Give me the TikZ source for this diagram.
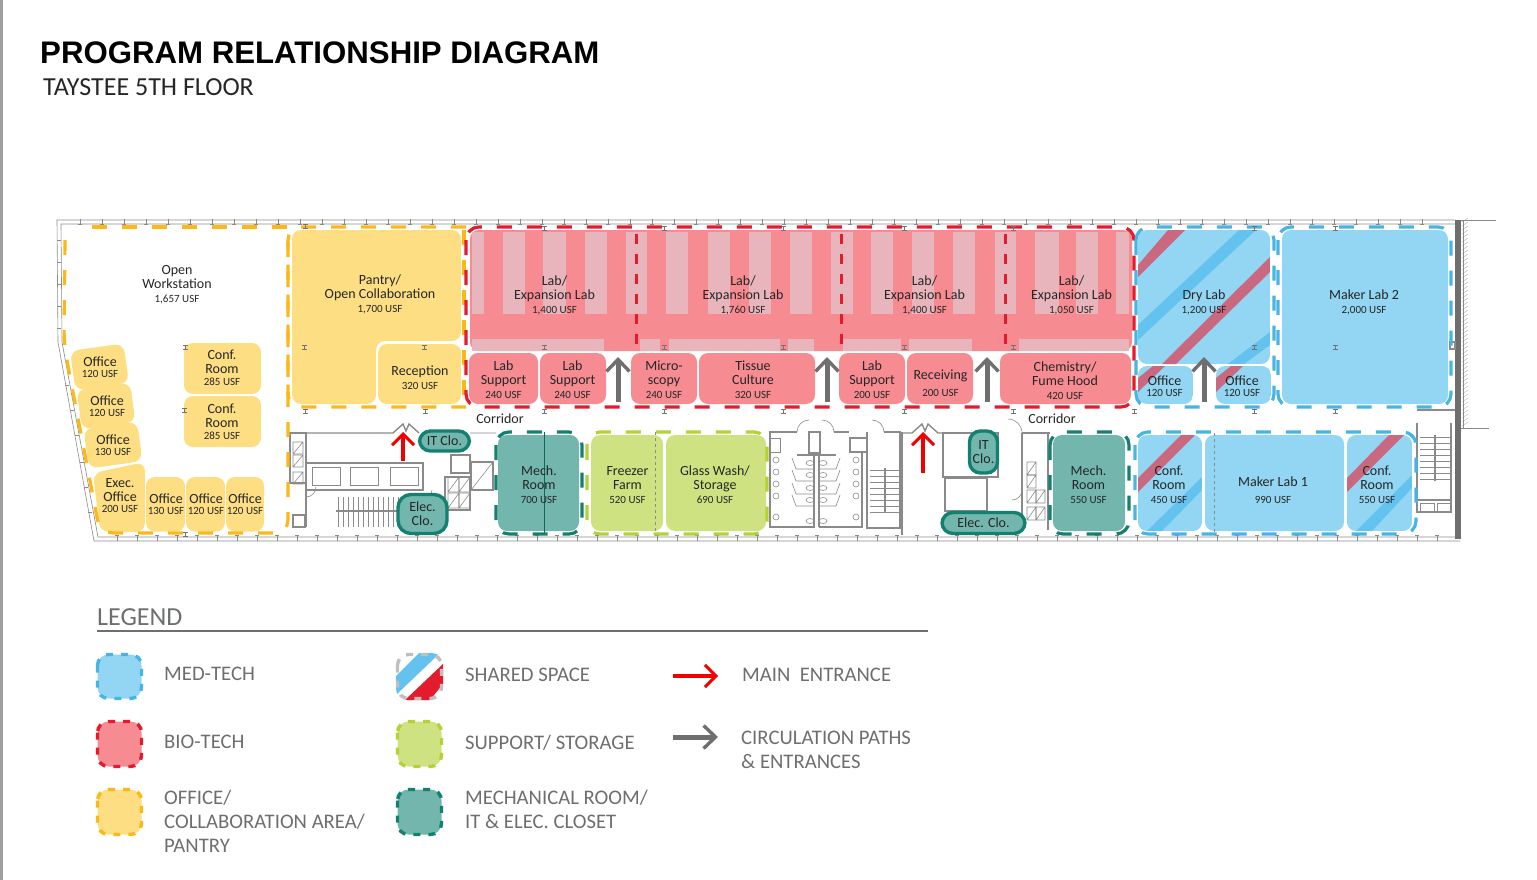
\documentclass[tikz,border=0pt]{standalone}
\usepackage{fontspec}
\setmainfont{Carlito}
\newfontfamily\titlefont{Liberation Sans}
\usetikzlibrary{arrows.meta}
\definecolor{medfill}{HTML}{92D6F3}
\definecolor{medline}{HTML}{48B4E4}
\definecolor{medstripe}{HTML}{63C3EE}
\definecolor{sharedstripe}{HTML}{C9687E}
\definecolor{biofill}{HTML}{F68B92}
\definecolor{bioline}{HTML}{E31B2C}
\definecolor{biobench}{HTML}{E9B5BD}
\definecolor{offfill}{HTML}{FDDE83}
\definecolor{offline}{HTML}{FBB816}
\definecolor{supfill}{HTML}{CFE281}
\definecolor{supline}{HTML}{B2D235}
\definecolor{mechfill}{HTML}{72B6AE}
\definecolor{mechline}{HTML}{14806F}
\definecolor{wallgray}{HTML}{8A8A8A}
\definecolor{arrowgray}{HTML}{6F6F6F}
\definecolor{legendtext}{HTML}{6D6E70}
\tikzset{
  room/.style={rounded corners=9pt},
  zone/.style={line width=3.2pt, dash pattern=on 15pt off 15pt, rounded corners=13pt},
  swatch/.style={line width=3.4pt, dash pattern=on 7pt off 8pt, rounded corners=11pt},
  planline/.style={draw=wallgray, line width=0.6pt},
  wall/.style={draw=wallgray, line width=1.4pt},
  rmtext/.style={align=center, inner sep=0pt, text=black!85, font=\fontsize{14}{14}\selectfont},
  clo/.style={draw=mechline, fill=mechfill, line width=3.4pt, rounded corners=11pt, align=center,
    inner sep=0pt, text=black!85, font=\fontsize{14}{14}\selectfont},
  legendrm/.style={anchor=west, align=left, inner sep=0pt, text=legendtext, font=\fontsize{20.7}{24}\selectfont},
  grayarrow/.style={draw=arrowgray, line width=5pt, -{Straight Barb[length=12pt,width=23pt,line width=3.4pt]}},
  redarrow/.style={draw=red!95!black, line width=3.8pt, -{Straight Barb[length=11pt,width=22pt,line width=3pt]}},
}
\newcommand{\usf}[1]{{\fontsize{11}{13}\selectfont #1 USF}}
\begin{document}
\begin{tikzpicture}[x=1pt, y=-1pt]
  \useasboundingbox (0,0) rectangle (1537,880);
  \fill[black!38] (0,0) rectangle (3,880);
  % Title
  \node[anchor=west, inner sep=0pt, font=\titlefont\bfseries\fontsize{31.2}{32}\selectfont] (title) at (40,53) {PROGRAM RELATIONSHIP DIAGRAM};
  \node[anchor=west, inner sep=0pt, text=black!85, font=\fontsize{26}{27}\selectfont] (subtitle) at (43,87) {TAYSTEE 5TH FLOOR};
  % Building outline
  \draw[planline] (1455,220) -- (57,220) -- (58,342) -- (94,541) -- (1460,541);
  \draw[planline] (1455,224) -- (61,224) -- (62,342) -- (98,537) -- (1456,537);
  \foreach \x in {80,102,...,1440} {
    \draw[planline] (\x,219) -- (\x,224) (\x-2,224) -- (\x+2,224);
  }
  \foreach \x in {117,137,...,1440} {
    \draw[planline] (\x,541) -- (\x,535) (\x-2,535) -- (\x+2,535);
  }
  \foreach \y in {240,262,284,306,328} {
    \draw[planline] (57,\y) -- (61,\y);
  }
  \foreach \a/\b in {65/385,70/410,75/435,80/462,84/487,88/512} {
    \draw[planline] (\a,\b) -- (\a+4,\b);
  }
  \fill[wallgray!80!black] (1455,220) rectangle (1461,539);
  \foreach \y in {222,226,...,426} {
    \draw[black!35, line width=0.3pt] (1462,\y) -- (1468,\y-4);
  }
  \draw[planline] (1461,220) -- (1496,220) (1461,428) -- (1489,428) (1463,220) -- (1463,428);
  % Left core
  \draw[wall] (290,433) -- (393,433) -- (403,424) -- (406,431) -- (409,424) -- (419,433);
  \draw[wall] (290,433) rectangle (306,483) (306,433) -- (306,527);
  \draw[wall] (306,463) rectangle (423,490);
  \foreach \a in {312,350,390} {
    \draw[planline] (\a,467) rectangle (\a+28,485);
  }
  \foreach \a/\b in {293/442,293/455,293/472} {
    \draw[planline] (\a,\b) rectangle (\a+10,\b+12) (\a,\b+12) -- (\a+10,\b);
  }
  \draw[wall] (293,515) rectangle (305,527);
  \foreach \x in {338,343,...,398} {
    \draw[planline] (\x,497) -- (\x,527);
  }
  \draw[wall] (336,511) -- (398,511);
  \draw[planline] (306,497) arc (90:0:10) (432,490) arc (0:90:10);
  \foreach \a/\b in {448/477,459/477,448/493,459/493} {
    \draw[planline] (\a,\b) rectangle (\a+11,\b+15) (\a,\b+15) -- (\a+11,\b);
  }
  \draw[wall] (445,477) rectangle (470,510) (471,462) rectangle (493,490) (451,455) rectangle (470,473);
  \draw[planline] (471,490) -- (493,462) (470,433) -- (496,433);
  % Restrooms
  \draw[wall] (797,432) -- (770,432) -- (770,527) -- (814,527) -- (814,452);
  \draw[wall] (834,432) -- (849,432) (819,527) -- (819,452) (819,527) -- (862,527) -- (862,452) -- (850,452);
  \draw[wall] (809,432) rectangle (820,453) (850,438) rectangle (867,452);
  \draw[wall] (797,455) -- (836,455);
  \draw[wall] (867,432) -- (867,528) -- (900,528) -- (900,432) -- (884,432);
  \draw[wall] (902,432) -- (902,535);
  \draw[planline] (797,432) arc (180:270:12) (834,432) arc (0:-90:12) (884,432) arc (0:-90:12);
  \draw[planline] (770,438) rectangle (780,452);
  \foreach \y in {458,470,483,495} {
    \draw[planline] (792,\y) -- (796,\y+11) -- (814,\y+11) (819,\y+11) -- (836,\y+11) -- (840,\y);
  }
  \foreach \y in {460,472,484,496,517} {
    \draw[planline] (776,\y) circle (3) (856,\y) circle (3);
  }
  \foreach \y in {463,475,488,500,521} {
    \draw[planline] (810,\y) ellipse (4 and 2.5) (823,\y) ellipse (4 and 2.5);
  }
  % Middle stairs
  \foreach \y in {470,476,...,512} {
    \draw[planline] (870,\y) -- (900,\y);
  }
  \draw[wall] (885,468) -- (885,512);
  % Right core
  \draw[wall] (902,433) -- (912,433) -- (922,424) -- (925,431) -- (928,424) -- (938,433) -- (998,433);
  \draw[wall] (943,433) rectangle (998,477) (945,478) rectangle (987,511);
  \draw[wall] (1022,433) -- (1050,433) (1022,433) -- (1022,530) (1048,433) -- (1048,530);
  \draw[planline] (1022,433) arc (0:-90:14) (1022,490) arc (0:90:10);
  \foreach \a/\b in {1027/462,1027/475,1027/490,1036/490,1027/507,1036/507} {
    \draw[planline] (\a,\b) rectangle (\a+9,\b+13) (\a,\b+13) -- (\a+9,\b);
  }
  % Right stairs
  \draw[wall] (1417,410) -- (1455,410) (1417,423) -- (1417,512) -- (1451,512) -- (1451,423);
  \foreach \y in {437,443,...,480} {
    \draw[planline] (1420,\y) -- (1450,\y);
  }
  \draw[wall] (1435,435) -- (1435,481) (1417,500) -- (1451,500);
  \draw[planline] (1420,503) rectangle (1434,511) (1437,503) rectangle (1450,511);
  \draw[wall] (1450,342) rectangle (1455,349);

  % Office rooms
  \fill[offfill, room] (292,230) -- (461,230) -- (461,341) -- (376,341) -- (376,404) -- (292,404) -- cycle;
  \fill[offfill, room] (378,344) rectangle (461,404);
  \foreach \a/\b [count=\n] in {99.5/367,106/406,113/445} {
    \node[fill=offfill, rounded corners=9pt, minimum width=54pt, minimum height=40pt, rotate=8, inner sep=0pt] (officefill\n) at (\a,\b) {};
  }
  \fill[offfill, room] (93,473) -- (145,462) -- (145,532) -- (100,532) -- cycle;
  \foreach \a/\b in {146/185,186/225,226/264} {
    \fill[offfill, room] (\a,477) rectangle (\b,531.5);
  }
  \fill[offfill, room] (184,343) rectangle (261,394);
  \fill[offfill, room] (184,396) rectangle (261,447);
  % Lab rooms
  \fill[biofill, room] (470,230) rectangle (1132,351);
  \foreach \a/\b in {472/484,503/525,543/566,585/607,626/647,666/688,708/730,749/771,790/812,831/853,871/893,912/934,953/975,995/1016,1035/1059,1076/1098,1116/1129} {
    \fill[biobench] (\a,232) rectangle (\b,314);
  }
  \foreach \a/\b in {472/604,640/660,669/780,788/814,843/901,909/972,1019/1129} {
    \fill[biobench] (\a,339) rectangle (\b,351);
  }
  \foreach \a/\b in {469/538,540/606,631/697,699/815,839/905,907/973,1000/1131} {
    \fill[biofill, room] (\a,353) rectangle (\b,404);
  }
  % Med-tech rooms
  \begin{scope}
    \clip[room] (1138,230) rectangle (1270,364);
    \fill[medfill] (1138,230) rectangle (1270,364);
    \fill[medstripe] (1138,325) -- (1239,230) -- (1256,230) -- (1138,340) -- cycle;
    \fill[medstripe] (1228,364) -- (1270,332) -- (1270,345) -- (1244,364) -- cycle;
    \fill[sharedstripe] (1138,265) -- (1168,230) -- (1185,230) -- (1138,277) -- cycle;
    \fill[sharedstripe] (1162,364) -- (1270,257) -- (1270,272) -- (1176,364) -- cycle;
  \end{scope}
  \foreach \a in {1138,1216} {
    \begin{scope}
      \clip[room] (\a,366) rectangle (\a+55,404);
      \fill[medfill] (\a,366) rectangle (\a+55,404);
      \fill[sharedstripe] (\a,378) -- (\a+15,366) -- (\a+27,366) -- (\a,392) -- cycle;
    \end{scope}
  }
  \fill[medfill, room] (1282,230) rectangle (1448,404);
  \fill[medfill, room] (1205,435) rectangle (1344,531);
  \begin{scope}
    \clip[room] (1138,435) rectangle (1202,531);
    \fill[medfill] (1138,435) rectangle (1202,531);
    \fill[medstripe] (1147,531) -- (1202,477) -- (1202,490) -- (1162,531) -- cycle;
    \fill[sharedstripe] (1138,478) -- (1181,435) -- (1195,435) -- (1138,492) -- cycle;
  \end{scope}
  \begin{scope}
    \clip[room] (1347,435) rectangle (1412,531);
    \fill[medfill] (1347,435) rectangle (1412,531);
    \fill[medstripe] (1356,531) -- (1412,475) -- (1412,488) -- (1372,531) -- cycle;
    \fill[sharedstripe] (1347,478) -- (1389,435) -- (1404,435) -- (1347,492) -- cycle;
  \end{scope}
  % Support and mechanical rooms
  \fill[supfill, room] (591,435) rectangle (663,531);
  \fill[supfill, room] (666,435) rectangle (766,531);
  \fill[mechfill, room] (498,435) rectangle (579,531);
  \fill[mechfill, room] (1053,435) rectangle (1125,531);
  \draw[mechline!80!black, line width=1pt] (544,432) -- (544,534);
  \draw[wallgray, line width=1pt, dashed] (655,432) -- (655,534) (1214,433) -- (1214,533);
  % Zones
  \draw[offline, zone] (287,227) -- (80,227);
  \draw[offline, zone] (65,240) -- (64,345) -- (100,533) -- (288,533) -- (288,240);
  \draw[offline, zone] (466,227) -- (288,227) -- (288,407) -- (466,407);
  \draw[offline, zone] (464,230) -- (464,404);
  \draw[bioline, zone] (466,227) rectangle (1134,407);
  \foreach \x in {636,841,1005} {
    \draw[bioline, line width=3pt, dash pattern=on 10pt off 10pt] (\x,234) -- (\x,345);
  }
  \draw[medline, zone] (1136,227) rectangle (1274,407);
  \draw[medline, zone] (1278,227) rectangle (1451,407);
  \draw[mechline, zone] (496,432) rectangle (582,534);
  \draw[supline, zone] (587,432) rectangle (767,534);
  \draw[mechline, zone] (1050,432) rectangle (1129,534);
  \draw[medline, zone] (1135,432) rectangle (1416,534);
  % Column marks
  \foreach \a/\b in {185/347,184/410,304/347,424/347,305/411,425/411,185/534,305/226,544/228,664/228,783/228,904/228,1013/228,544/347,664/347,783/347,904/347,1013/347,544/411,664/411,783/411,904/411,1013/411,1134/411,1254/411,1335/411,1254/347,1335/347,1254/228,1335/228} {
    \draw[black!55, line width=0.8pt] (\a-2.5,\b-2) -- (\a+2.5,\b-2) (\a-2.5,\b+2) -- (\a+2.5,\b+2) (\a,\b-2) -- (\a,\b+2);
  }
  % Closets
  \node[clo, minimum width=50pt, minimum height=20pt] (itcloa) at (444.5,441) {IT Clo.};
  \node[clo, minimum width=49pt, minimum height=39pt, rounded corners=13pt] (eleccloa) at (422.5,514) {Elec.\\Clo.};
  \node[clo, minimum width=28pt, minimum height=42pt] (itclob) at (983.5,452) {IT\\Clo.};
  \node[clo, minimum width=83pt, minimum height=21pt] (elecclob) at (983.5,523) {Elec. Clo.};
  % Circulation arrows
  \foreach \x [count=\n] in {618,827,987,1204} {
    \coordinate (circs\n) at (\x,402);
    \coordinate (circe\n) at (\x,357);
    \draw[grayarrow] (circs\n) -- (circe\n);
  }
  \foreach \x/\y [count=\n] in {403/461,923/473} {
    \coordinate (mains\n) at (\x,\y);
    \coordinate (maine\n) at (\x,432);
    \draw[redarrow] (mains\n) -- (maine\n);
  }
  % Room labels
  \node[rmtext] (openws) at (177,284.5) {Open\\Workstation\\\usf{1,657}};
  \node[rmtext] (pantry) at (380,294) {Pantry/\\Open Collaboration\\\usf{1,700}};
  \node[rmtext] (reception) at (420,378) {Reception\\\usf{320}};
  \node[rmtext] (office1) at (100,367.5) {Office\\[-3pt]\usf{120}};
  \node[rmtext] (office2) at (107,406.5) {Office\\[-3pt]\usf{120}};
  \node[rmtext] (office3) at (113,445.5) {Office\\[-3pt]\usf{130}};
  \node[rmtext] (exec) at (120,496) {Exec.\\Office\\[-3pt]\usf{200}};
  \node[rmtext] (office4) at (166,504) {Office\\[-3pt]\usf{130}};
  \node[rmtext] (office5) at (206,504) {Office\\[-3pt]\usf{120}};
  \node[rmtext] (office6) at (245,504) {Office\\[-3pt]\usf{120}};
  \node[rmtext] (confa) at (222,368) {Conf.\\Room\\[-2pt]\usf{285}};
  \node[rmtext] (confb) at (222,422) {Conf.\\Room\\[-2pt]\usf{285}};
  \node[rmtext] (laba) at (554.5,295) {Lab/\\Expansion Lab\\\usf{1,400}};
  \node[rmtext] (labb) at (743,295) {Lab/\\Expansion Lab\\\usf{1,760}};
  \node[rmtext] (labc) at (924.5,295) {Lab/\\Expansion Lab\\\usf{1,400}};
  \node[rmtext] (labd) at (1071.5,295) {Lab/\\Expansion Lab\\\usf{1,050}};
  \node[rmtext] (supa) at (503.5,380) {Lab\\Support\\\usf{240}};
  \node[rmtext] (supb) at (572.5,380) {Lab\\Support\\\usf{240}};
  \node[rmtext] (micro) at (664,380) {Micro-\\scopy\\\usf{240}};
  \node[rmtext] (tissue) at (753,380) {Tissue\\Culture\\\usf{320}};
  \node[rmtext] (supc) at (872,380) {Lab\\Support\\\usf{200}};
  \node[rmtext] (receiving) at (940.5,383) {Receiving\\[3pt]\usf{200}};
  \node[rmtext] (chem) at (1065,381) {Chemistry/\\Fume Hood\\\usf{420}};
  \node[rmtext] (drylab) at (1204,302) {Dry Lab\\\usf{1,200}};
  \node[rmtext] (officea) at (1164.5,386) {Office\\[-3pt]\usf{120}};
  \node[rmtext] (officeb) at (1242,386) {Office\\[-3pt]\usf{120}};
  \node[rmtext] (makerb) at (1364,302) {Maker Lab 2\\\usf{2,000}};
  \node[rmtext] (corra) at (500,419) {Corridor};
  \node[rmtext] (corrb) at (1052,419) {Corridor};
  \node[rmtext] (mecha) at (539,485) {Mech.\\Room\\\usf{700}};
  \node[rmtext] (freezer) at (627.5,485) {Freezer\\Farm\\\usf{520}};
  \node[rmtext] (glass) at (715,485) {Glass Wash/\\Storage\\\usf{690}};
  \node[rmtext] (mechb) at (1088.5,485) {Mech.\\Room\\\usf{550}};
  \node[rmtext] (confc) at (1169,485) {Conf.\\Room\\\usf{450}};
  \node[rmtext] (makera) at (1273,490) {Maker Lab 1\\[3pt]\usf{990}};
  \node[rmtext] (confd) at (1377,485) {Conf.\\Room\\\usf{550}};
  % Legend
  \node[legendrm, font=\fontsize{26}{26}\selectfont] (legend) at (97,617) {LEGEND};
  \draw[arrowgray, line width=1.6pt] (97,631) -- (928,631);
  \fill[medfill, rounded corners=11pt] (97.5,654.5) rectangle (141.5,698.5);
  \draw[medline, swatch] (97.5,654.5) rectangle (141.5,698.5);
  \fill[biofill, rounded corners=11pt] (97.5,721.5) rectangle (141.5,766.5);
  \draw[bioline, swatch] (97.5,721.5) rectangle (141.5,766.5);
  \fill[offfill, rounded corners=11pt] (97.5,789.5) rectangle (141.5,834.5);
  \draw[offline, swatch] (97.5,789.5) rectangle (141.5,834.5);
  \begin{scope}
    \clip[rounded corners=11pt] (396,653) rectangle (443,700);
    \fill[medstripe] (396,676) -- (419,653) -- (440,653) -- (396,695) -- cycle;
    \fill[bioline] (405,700) -- (443,664) -- (443,684) -- (430,700) -- cycle;
  \end{scope}
  \draw[black!25, swatch] (397.5,654.5) rectangle (441.5,698.5);
  \fill[supfill, rounded corners=11pt] (397.5,721.5) rectangle (441.5,766.5);
  \draw[supline, swatch] (397.5,721.5) rectangle (441.5,766.5);
  \fill[mechfill, rounded corners=11pt] (397.5,789.5) rectangle (441.5,834.5);
  \draw[mechline, swatch] (397.5,789.5) rectangle (441.5,834.5);
  \node[legendrm] (lgmed) at (164,674) {MED-TECH};
  \node[legendrm] (lgbio) at (164,742) {BIO-TECH};
  \node[legendrm] (lgoff) at (164,821) {OFFICE/\\COLLABORATION AREA/\\PANTRY};
  \node[legendrm] (lgshared) at (465,675) {SHARED SPACE};
  \node[legendrm] (lgsup) at (465,743) {SUPPORT/ STORAGE};
  \node[legendrm] (lgmech) at (465,809) {MECHANICAL ROOM/\\IT \& ELEC. CLOSET};
  \node[legendrm] (lgmain) at (742,675) {MAIN\ \ ENTRANCE};
  \node[legendrm] (lgcirc) at (741,750) {CIRCULATION PATHS\\\& ENTRANCES};
  \coordinate (lgreds) at (673,676);
  \coordinate (lgrede) at (718,676);
  \coordinate (lggrays) at (673,737);
  \coordinate (lggraye) at (718,737);
  \draw[redarrow] (lgreds) -- (lgrede);
  \draw[grayarrow] (lggrays) -- (lggraye);
\end{tikzpicture}
\end{document}
